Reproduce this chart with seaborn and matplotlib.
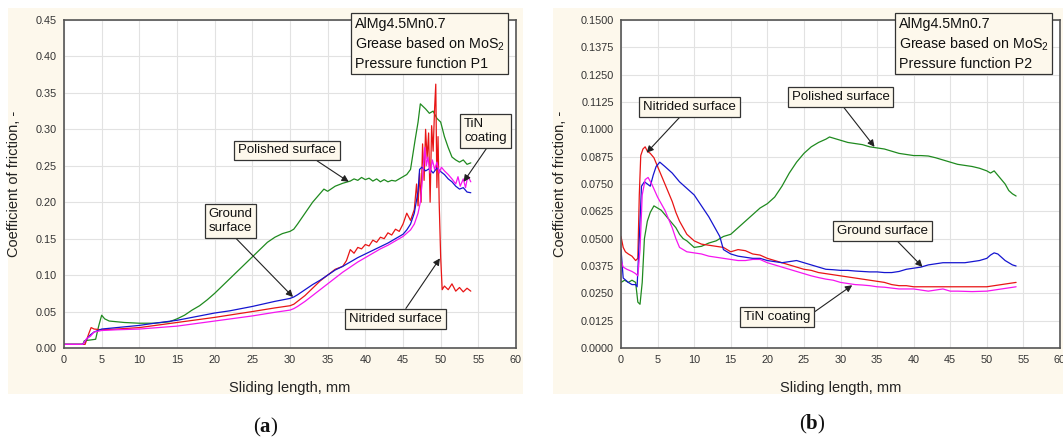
import matplotlib
matplotlib.use("Agg")
import matplotlib.pyplot as plt
from matplotlib.patches import Rectangle
import numpy as np
import pandas as pd
import seaborn as sns

# ---------------- Pressure function P1 (panel a) ----------------
a_polished_x = [0, 2.5, 2.7, 3.5, 4.2, 4.6, 5.0, 5.4, 6, 7, 8, 10, 12, 13, 14, 15, 16, 17, 18, 19,
                20, 21, 22, 23, 24, 25, 26, 27, 28, 29, 30, 30.5, 31, 32, 33, 34, 34.5, 35, 36, 37,
                38, 38.5, 39, 39.5, 40, 40.5, 41, 41.5, 42, 42.5, 43, 43.5, 44, 44.5, 45, 45.5, 46,
                46.3, 46.6, 47, 47.3, 47.6, 48, 48.5, 49, 49.5, 50, 50.5, 51, 51.5, 52, 52.5, 53,
                53.5, 54]
a_polished_y = [0.005, 0.005, 0.010, 0.011, 0.012, 0.030, 0.045, 0.040, 0.037, 0.036, 0.035, 0.034,
                0.034, 0.035, 0.036, 0.040, 0.045, 0.052, 0.058, 0.066, 0.075, 0.085, 0.095, 0.105,
                0.115, 0.125, 0.135, 0.145, 0.152, 0.157, 0.160, 0.163, 0.170, 0.185, 0.200, 0.212,
                0.218, 0.215, 0.222, 0.226, 0.229, 0.232, 0.230, 0.234, 0.231, 0.233, 0.229, 0.232,
                0.228, 0.231, 0.228, 0.230, 0.229, 0.232, 0.235, 0.238, 0.245, 0.265, 0.285, 0.310,
                0.335, 0.332, 0.328, 0.322, 0.325, 0.315, 0.310, 0.290, 0.275, 0.262, 0.258, 0.255,
                0.258, 0.252, 0.254]

a_ground_x = [0, 2.5, 3.0, 3.5, 4.0, 4.5, 5, 7, 10, 12, 15, 18, 20, 22, 25, 28, 30, 30.5, 31, 32,
              33, 34, 35, 36, 37, 38, 39, 40, 41, 42, 43, 44, 45, 45.5, 46, 46.5, 47, 47.2, 47.5,
              48, 48.5, 49, 49.5, 50, 50.5, 51, 51.5, 52, 52.5, 53, 53.5, 54]
a_ground_y = [0.005, 0.005, 0.012, 0.018, 0.022, 0.024, 0.026, 0.028, 0.031, 0.034, 0.038, 0.044,
              0.048, 0.051, 0.057, 0.064, 0.068, 0.070, 0.073, 0.080, 0.087, 0.093, 0.100, 0.107,
              0.112, 0.118, 0.124, 0.129, 0.134, 0.139, 0.144, 0.150, 0.156, 0.162, 0.170, 0.185,
              0.215, 0.245, 0.248, 0.243, 0.246, 0.240, 0.247, 0.242, 0.238, 0.232, 0.228, 0.222,
              0.218, 0.220, 0.214, 0.213]

a_nitrided_x = [0, 2.8, 3.3, 3.6, 4, 5, 7, 10, 15, 20, 25, 28, 30, 30.5, 31, 32, 33, 34, 35, 36,
                37, 37.5, 38, 38.5, 39, 39.5, 40, 40.5, 41, 41.5, 42, 42.5, 43, 43.5, 44, 44.5, 45,
                45.5, 46, 46.5, 46.8, 47.0, 47.2, 47.4, 47.6, 47.8, 48.0, 48.2, 48.4, 48.6, 48.8,
                49.0, 49.2, 49.35, 49.5, 49.65, 49.8, 50.0, 50.2, 50.5, 51, 51.5, 52, 52.5, 53,
                53.5, 54]
a_nitrided_y = [0.005, 0.005, 0.020, 0.028, 0.026, 0.025, 0.026, 0.028, 0.035, 0.042, 0.050, 0.055,
                0.058, 0.060, 0.064, 0.072, 0.082, 0.092, 0.100, 0.108, 0.112, 0.120, 0.135, 0.130,
                0.138, 0.136, 0.142, 0.140, 0.148, 0.145, 0.152, 0.150, 0.158, 0.155, 0.163, 0.160,
                0.170, 0.185, 0.175, 0.190, 0.225, 0.195, 0.240, 0.200, 0.280, 0.230, 0.300, 0.260,
                0.295, 0.200, 0.305, 0.270, 0.330, 0.362, 0.220, 0.290, 0.200, 0.125, 0.080, 0.085,
                0.080, 0.088, 0.078, 0.083, 0.077, 0.082, 0.078]

a_tin_x = [0, 2.5, 3.0, 3.5, 4.0, 5, 7, 10, 15, 20, 25, 28, 30, 30.5, 31, 32, 33, 34, 35, 36, 37,
           38, 39, 40, 41, 42, 43, 44, 45, 46, 46.5, 47, 47.3, 47.6, 47.9, 48.1, 48.3, 48.6, 48.9,
           49.2, 49.5, 49.8, 50.1, 50.5, 51, 51.5, 52, 52.3, 52.6, 53, 53.3, 53.6, 54]
a_tin_y = [0.005, 0.005, 0.013, 0.016, 0.022, 0.024, 0.025, 0.026, 0.030, 0.037, 0.044, 0.049,
           0.052, 0.054, 0.057, 0.064, 0.072, 0.080, 0.088, 0.096, 0.104, 0.111, 0.118, 0.124,
           0.130, 0.136, 0.141, 0.147, 0.153, 0.162, 0.170, 0.185, 0.200, 0.235, 0.275, 0.250,
           0.262, 0.240, 0.258, 0.245, 0.255, 0.240, 0.248, 0.243, 0.238, 0.232, 0.225, 0.235,
           0.222, 0.232, 0.220, 0.236, 0.228]

# ---------------- Pressure function P2 (panel b) ----------------
b_polished_x = [0, 0.5, 1, 1.5, 2.0, 2.3, 2.6, 2.9, 3.2, 3.6, 4.0, 4.5, 5.0, 5.5, 6, 6.5, 7, 7.5,
                8, 8.5, 9, 10, 11, 12, 13, 14, 15, 16, 17, 18, 19, 20, 21, 22, 23, 24, 25, 26, 27,
                28, 28.5, 29, 30, 31, 32, 33, 34, 35, 36, 37, 38, 39, 40, 41, 42, 43, 44, 45, 46,
                47, 48, 49, 50, 50.5, 51, 51.5, 52, 52.5, 53, 53.5, 54]
b_polished_y = [0.030, 0.031, 0.030, 0.031, 0.030, 0.021, 0.020, 0.030, 0.050, 0.058, 0.062,
                0.065, 0.064, 0.063, 0.061, 0.059, 0.057, 0.055, 0.052, 0.050, 0.049, 0.046,
                0.0465, 0.048, 0.049, 0.051, 0.052, 0.055, 0.058, 0.061, 0.064, 0.066, 0.069,
                0.074, 0.080, 0.085, 0.089, 0.092, 0.094, 0.0955, 0.0965, 0.096, 0.095, 0.094,
                0.0935, 0.093, 0.092, 0.0915, 0.091, 0.090, 0.089, 0.0885, 0.088, 0.088, 0.0878,
                0.087, 0.086, 0.085, 0.084, 0.0835, 0.083, 0.0822, 0.081, 0.080, 0.081, 0.079,
                0.077, 0.075, 0.072, 0.0705, 0.0695]

b_ground_x = [0, 0.3, 1, 1.5, 2.0, 2.2, 2.5, 2.8, 3.2, 3.6, 4.0, 4.4, 4.8, 5.3, 6, 7, 8, 9, 10,
              11, 12, 13, 13.5, 14, 15, 16, 17, 18, 19, 20, 21, 22, 23, 24, 25, 26, 27, 28, 29,
              30, 31, 32, 33, 34, 35, 36, 37, 38, 39, 40, 41, 42, 43, 44, 45, 46, 47, 48, 49, 50,
              50.5, 51, 51.5, 52, 52.5, 53, 53.5, 54]
b_ground_y = [0.045, 0.032, 0.030, 0.029, 0.029, 0.028, 0.050, 0.074, 0.076, 0.075, 0.074, 0.079,
              0.083, 0.085, 0.083, 0.080, 0.076, 0.073, 0.070, 0.065, 0.060, 0.054, 0.051, 0.045,
              0.043, 0.042, 0.0415, 0.041, 0.041, 0.040, 0.0395, 0.039, 0.0395, 0.040, 0.039,
              0.038, 0.037, 0.036, 0.0358, 0.0355, 0.0355, 0.0352, 0.035, 0.0348, 0.0348, 0.0345,
              0.0345, 0.035, 0.036, 0.0365, 0.037, 0.038, 0.0385, 0.039, 0.039, 0.039, 0.039,
              0.0395, 0.040, 0.041, 0.0425, 0.0435, 0.043, 0.0415, 0.040, 0.039, 0.038, 0.0375]

b_nitrided_x = [0, 0.3, 0.6, 1.0, 1.5, 2.0, 2.3, 2.5, 2.7, 3.0, 3.3, 3.6, 4.0, 4.5, 5.0, 5.5, 6,
                6.5, 7, 7.5, 8, 8.5, 9, 10, 11, 12, 13, 14, 15, 16, 17, 18, 19, 20, 21, 22, 23, 24,
                25, 26, 27, 28, 29, 30, 31, 32, 33, 34, 35, 36, 37, 38, 39, 40, 42, 44, 46, 48, 50,
                51, 52, 53, 54]
b_nitrided_y = [0.051, 0.046, 0.044, 0.043, 0.042, 0.040, 0.041, 0.070, 0.088, 0.091, 0.092,
                0.090, 0.089, 0.087, 0.083, 0.079, 0.075, 0.071, 0.067, 0.062, 0.058, 0.055,
                0.052, 0.049, 0.0475, 0.047, 0.0465, 0.046, 0.044, 0.045, 0.0445, 0.043, 0.0425,
                0.041, 0.040, 0.039, 0.038, 0.037, 0.036, 0.0355, 0.0345, 0.034, 0.0335, 0.033,
                0.0325, 0.032, 0.0315, 0.031, 0.0305, 0.030, 0.029, 0.0285, 0.0285, 0.028, 0.028,
                0.028, 0.028, 0.028, 0.028, 0.0285, 0.029, 0.0295, 0.030]

b_tin_x = [0, 0.3, 0.8, 1.5, 2.0, 2.3, 2.6, 2.9, 3.3, 3.7, 4.2, 4.6, 5.0, 5.5, 6, 6.5, 7, 7.5, 8,
           9, 10, 11, 12, 13, 14, 15, 16, 17, 18, 19, 20, 21, 22, 23, 24, 25, 26, 27, 28, 29, 30,
           31, 32, 33, 34, 35, 36, 38, 40, 42, 43, 44, 45, 46, 48, 50, 52, 53, 54]
b_tin_y = [0.040, 0.037, 0.036, 0.035, 0.034, 0.033, 0.045, 0.070, 0.077, 0.078, 0.075, 0.072,
           0.069, 0.066, 0.063, 0.059, 0.055, 0.050, 0.046, 0.044, 0.0435, 0.043, 0.042, 0.0415,
           0.041, 0.0405, 0.040, 0.040, 0.0405, 0.0405, 0.039, 0.038, 0.037, 0.036, 0.035, 0.034,
           0.033, 0.0322, 0.0315, 0.031, 0.030, 0.0295, 0.029, 0.0288, 0.0285, 0.028, 0.0278,
           0.027, 0.027, 0.026, 0.0265, 0.027, 0.026, 0.026, 0.0258, 0.026, 0.027, 0.0275, 0.028]

surfaces = ["Polished surface", "Nitrided surface", "Ground surface", "TiN coating"]
palette = {"Polished surface": "#1f8a1f", "Nitrided surface": "#e81515",
           "Ground surface": "#1515d0", "TiN coating": "#f515f0"}

x_ticks = list(range(0, 61, 5))
a_y_ticks = [0.00, 0.05, 0.10, 0.15, 0.20, 0.25, 0.30, 0.35, 0.40, 0.45]
b_y_ticks = [0.0000, 0.0125, 0.0250, 0.0375, 0.0500, 0.0625, 0.0750, 0.0875,
             0.1000, 0.1125, 0.1250, 0.1375, 0.1500]


def long_frame(series):
    parts = [pd.DataFrame({"length": xs, "cof": ys, "surface": name})
             for name, (xs, ys) in series.items()]
    return pd.concat(parts, ignore_index=True)


df_a = long_frame({
    "Polished surface": (a_polished_x, a_polished_y),
    "Nitrided surface": (a_nitrided_x, a_nitrided_y),
    "Ground surface": (a_ground_x, a_ground_y),
    "TiN coating": (a_tin_x, a_tin_y),
})
df_b = long_frame({
    "Polished surface": (b_polished_x, b_polished_y),
    "Nitrided surface": (b_nitrided_x, b_nitrided_y),
    "Ground surface": (b_ground_x, b_ground_y),
    "TiN coating": (b_tin_x, b_tin_y),
})

sns.set_style("white")
plt.rcParams["font.family"] = ["Liberation Sans", "DejaVu Sans"]
plt.rcParams["mathtext.fontset"] = "custom"
plt.rcParams["mathtext.rm"] = "Liberation Sans"
plt.rcParams["mathtext.it"] = "Liberation Sans:italic"
plt.rcParams["mathtext.bf"] = "Liberation Serif:bold"

CREAM = "#fdf8ec"
W, H = 1063, 441
fig = plt.figure(figsize=(W / 100, H / 100), dpi=100)
fig.patch.set_facecolor("white")


def px_rect(left, right, top, bottom):
    return [left / W, 1 - bottom / H, (right - left) / W, (bottom - top) / H]


# cream panel backgrounds
for l, r in [(8, 523), (553, 1063)]:
    fig.add_artist(Rectangle((l / W, 1 - 394 / H), (r - l) / W, (394 - 8) / H,
                             transform=fig.transFigure, facecolor=CREAM,
                             edgecolor="none", zorder=-5))

ax_a = fig.add_axes(px_rect(64, 516, 20, 348))
ax_b = fig.add_axes(px_rect(621, 1060, 20, 348))


def style_axes(ax, yticks, fmt, ylim, ylab_x):
    ax.set_facecolor("white")
    ax.set_xlim(0, 60)
    ax.set_ylim(*ylim)
    ax.set_xticks(x_ticks)
    ax.set_yticks(yticks)
    ax.set_yticklabels([fmt % v for v in yticks])
    ax.grid(True, color="#e2e2e2", lw=0.8)
    ax.set_axisbelow(True)
    for s in ax.spines.values():
        s.set_color("#555555")
        s.set_linewidth(1.2)
    ax.tick_params(axis="x", direction="in", length=3, width=0.8, color="#444",
                   labelsize=7.8, labelcolor="#333", pad=5)
    ax.tick_params(axis="y", direction="out", length=3, width=0.8, color="#444",
                   labelsize=7.8, labelcolor="#333", pad=2)
    ax.set_xlabel("Sliding length, mm", fontsize=10.5, color="#222")
    ax.set_ylabel("Coefficient of friction, -", fontsize=10.5, color="#222")
    ax.xaxis.set_label_coords(0.5, -0.10)
    ax.yaxis.set_label_coords(ylab_x, 0.5)


def boxed_note(ax, text, tip, center, relpos):
    ax.annotate(text, xy=tip, xytext=center, ha="center", va="center",
                multialignment="left", fontsize=9.5, color="#111", zorder=6,
                bbox=dict(boxstyle="square,pad=0.3", fc=CREAM, ec="#333", lw=0.9),
                arrowprops=dict(arrowstyle="-|>", color="#222", lw=0.8,
                                mutation_scale=10, shrinkA=0, shrinkB=0,
                                relpos=relpos))


def info_box(ax, x, y, pressure):
    ax.text(x, y, "AlMg4.5Mn0.7\nGrease based on MoS$_2$\nPressure function " + pressure,
            ha="left", va="top", fontsize=10.3, linespacing=1.35, color="#111",
            clip_on=False, zorder=6,
            bbox=dict(boxstyle="square,pad=0.25", fc=CREAM, ec="#333", lw=0.9))


for ax, df in [(ax_a, df_a), (ax_b, df_b)]:
    sns.lineplot(data=df, x="length", y="cof", hue="surface", hue_order=surfaces,
                 palette=palette, estimator=None, sort=False, lw=0.9,
                 legend=False, ax=ax)

style_axes(ax_a, a_y_ticks, "%.2f", (0, 0.45), -0.095)
style_axes(ax_b, b_y_ticks, "%.4f", (0, 0.15), -0.122)

# panel a notes
info_box(ax_a, 38.6, 0.4545, "P1")
boxed_note(ax_a, "Polished surface", (37.8, 0.228), (29.6, 0.271), (0.74, 0))
boxed_note(ax_a, "Ground\nsurface", (30.4, 0.070), (22.1, 0.174), (0.53, 0))
boxed_note(ax_a, "Nitrided surface", (49.9, 0.123), (44.0, 0.040), (0.58, 1))
boxed_note(ax_a, "TiN\ncoating", (53.05, 0.228), (55.95, 0.298), (0.6, 0))

# panel b notes
info_box(ax_b, 38.0, 0.1515, "P2")
boxed_note(ax_b, "Nitrided surface", (3.5, 0.0893), (9.35, 0.1103), (0.44, 0))
boxed_note(ax_b, "Polished surface", (34.65, 0.0920), (30.0, 0.1147), (0.5, 0))
boxed_note(ax_b, "Ground surface", (41.2, 0.0371), (35.8, 0.0537), (0.61, 0))
boxed_note(ax_b, "TiN coating", (31.6, 0.0287), (21.3, 0.0142), (1.0, 0.66))

# panel captions
for xc, yc, letter in [(266, 427, "a"), (812, 424, "b")]:
    fig.text(xc / W, 1 - yc / H, "($\\mathbf{" + letter + "}$)", ha="center", va="center",
             fontsize=15, family="Liberation Serif", color="#111")

fig.savefig("out.png", dpi=100, facecolor="white")
